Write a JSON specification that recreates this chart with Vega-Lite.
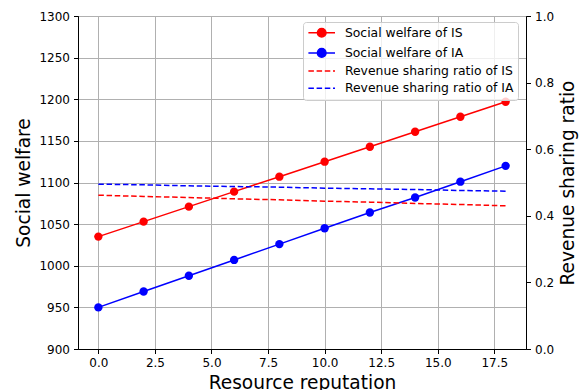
{
  "$schema": "https://vega.github.io/schema/vega-lite/v6.json",
  "width": 448,
  "height": 333,
  "autosize": {"type": "none"},
  "padding": {"left": 78, "top": 16, "right": 53, "bottom": 41},
  "background": "white",
  "config": {
    "font": "DejaVu Sans",
    "view": {"stroke": "black", "strokeWidth": 1},
    "axis": {
      "labelFont": "DejaVu Sans",
      "labelFontSize": 12,
      "labelColor": "black",
      "titleFont": "DejaVu Sans",
      "titleFontSize": 18.6,
      "titleFontWeight": "normal",
      "titleColor": "black",
      "domainColor": "black",
      "tickColor": "black",
      "tickSize": 4.5,
      "labelPadding": 4,
      "gridColor": "#b0b0b0",
      "gridWidth": 1
    }
  },
  "datasets": {
    "welfare": [
      {"r": 0, "series": "Social welfare of IS", "welfare": 1035},
      {"r": 2, "series": "Social welfare of IS", "welfare": 1053},
      {"r": 4, "series": "Social welfare of IS", "welfare": 1071},
      {"r": 6, "series": "Social welfare of IS", "welfare": 1089},
      {"r": 8, "series": "Social welfare of IS", "welfare": 1107},
      {"r": 10, "series": "Social welfare of IS", "welfare": 1125},
      {"r": 12, "series": "Social welfare of IS", "welfare": 1143},
      {"r": 14, "series": "Social welfare of IS", "welfare": 1161},
      {"r": 16, "series": "Social welfare of IS", "welfare": 1179},
      {"r": 18, "series": "Social welfare of IS", "welfare": 1197},
      {"r": 0, "series": "Social welfare of IA", "welfare": 950},
      {"r": 2, "series": "Social welfare of IA", "welfare": 969},
      {"r": 4, "series": "Social welfare of IA", "welfare": 988},
      {"r": 6, "series": "Social welfare of IA", "welfare": 1007},
      {"r": 8, "series": "Social welfare of IA", "welfare": 1026},
      {"r": 10, "series": "Social welfare of IA", "welfare": 1045},
      {"r": 12, "series": "Social welfare of IA", "welfare": 1064},
      {"r": 14, "series": "Social welfare of IA", "welfare": 1082},
      {"r": 16, "series": "Social welfare of IA", "welfare": 1101},
      {"r": 18, "series": "Social welfare of IA", "welfare": 1120}
    ],
    "ratio": [
      {"r": 0, "series": "Revenue sharing ratio of IS", "ratio": 0.462},
      {"r": 2, "series": "Revenue sharing ratio of IS", "ratio": 0.458},
      {"r": 4, "series": "Revenue sharing ratio of IS", "ratio": 0.455},
      {"r": 6, "series": "Revenue sharing ratio of IS", "ratio": 0.451},
      {"r": 8, "series": "Revenue sharing ratio of IS", "ratio": 0.448},
      {"r": 10, "series": "Revenue sharing ratio of IS", "ratio": 0.444},
      {"r": 12, "series": "Revenue sharing ratio of IS", "ratio": 0.441},
      {"r": 14, "series": "Revenue sharing ratio of IS", "ratio": 0.437},
      {"r": 16, "series": "Revenue sharing ratio of IS", "ratio": 0.434},
      {"r": 18, "series": "Revenue sharing ratio of IS", "ratio": 0.430},
      {"r": 0, "series": "Revenue sharing ratio of IA", "ratio": 0.495},
      {"r": 2, "series": "Revenue sharing ratio of IA", "ratio": 0.493},
      {"r": 4, "series": "Revenue sharing ratio of IA", "ratio": 0.490},
      {"r": 6, "series": "Revenue sharing ratio of IA", "ratio": 0.488},
      {"r": 8, "series": "Revenue sharing ratio of IA", "ratio": 0.486},
      {"r": 10, "series": "Revenue sharing ratio of IA", "ratio": 0.483},
      {"r": 12, "series": "Revenue sharing ratio of IA", "ratio": 0.481},
      {"r": 14, "series": "Revenue sharing ratio of IA", "ratio": 0.479},
      {"r": 16, "series": "Revenue sharing ratio of IA", "ratio": 0.476},
      {"r": 18, "series": "Revenue sharing ratio of IA", "ratio": 0.474}
    ]
  },
  "layer": [
    {
      "data": {"name": "welfare"},
      "encoding": {
        "x": {
          "field": "r",
          "type": "quantitative",
          "scale": {"domain": [-0.9, 18.9], "nice": false, "zero": false},
          "axis": {
            "values": [0, 2.5, 5, 7.5, 10, 12.5, 15, 17.5],
            "format": ".1f",
            "title": "Resource reputation",
            "grid": true,
            "titlePadding": 5
          }
        },
        "y": {
          "field": "welfare",
          "type": "quantitative",
          "scale": {"domain": [900, 1300], "nice": false, "zero": false},
          "axis": {
            "orient": "left",
            "values": [900, 950, 1000, 1050, 1100, 1150, 1200, 1250, 1300],
            "format": "d",
            "title": "Social welfare",
            "grid": true,
            "titlePadding": 5
          }
        },
        "color": {
          "field": "series",
          "type": "nominal",
          "scale": {
            "domain": ["Social welfare of IS", "Social welfare of IA", "Revenue sharing ratio of IS", "Revenue sharing ratio of IA"],
            "range": ["#ff0000", "#0000ff", "#ff0000", "#0000ff"]
          },
          "legend": {
            "title": null,
            "orient": "none",
            "legendX": 225,
            "legendY": 6,
            "padding": 4.5,
            "fillColor": "rgba(255,255,255,0.8)",
            "strokeColor": "#cccccc",
            "cornerRadius": 3,
            "labelFont": "DejaVu Sans",
            "labelFontSize": 12.4,
            "labelColor": "black",
            "labelLimit": 400,
            "symbolSize": 100,
            "symbolOffset": 8,
            "labelOffset": 17,
            "rowPadding": 4.2,
            "symbolStrokeWidth": 1.5,
            "encode": {
              "symbols": {
                "update": {
                  "size": {"value": 100},
                  "opacity": {"value": 1},
                  "shape": {"signal": "indexof(datum.value, 'Social') === 0 ? 'M-2.66,0H2.66M0.86,0A0.86,0.86,0,1,1,-0.86,0A0.86,0.86,0,1,1,0.86,0Z' : 'M-2.66,0H2.66'"},
                  "strokeDash": {"signal": "indexof(datum.value, 'Revenue') === 0 ? [5.5, 2.7] : []"},
                  "fill": {"signal": "slice(datum.value, -2) === 'IS' ? '#ff0000' : '#0000ff'"},
                  "stroke": {"signal": "slice(datum.value, -2) === 'IS' ? '#ff0000' : '#0000ff'"},
                  "strokeWidth": {"value": 1.5}
                }
              }
            }
          }
        }
      },
      "layer": [
        {"mark": {"type": "line", "strokeWidth": 1.5}},
        {"mark": {"type": "point", "filled": true, "size": 70, "opacity": 1}}
      ]
    },
    {
      "data": {"name": "ratio"},
      "mark": {"type": "line", "strokeWidth": 1.5, "strokeDash": [5.5, 2.7]},
      "encoding": {
        "x": {"field": "r", "type": "quantitative"},
        "y": {
          "field": "ratio",
          "type": "quantitative",
          "scale": {"domain": [0, 1], "nice": false},
          "axis": {
            "orient": "right",
            "values": [0, 0.2, 0.4, 0.6, 0.8, 1.0],
            "format": ".1f",
            "title": "Revenue sharing ratio",
            "titleAngle": 270,
            "titleBaseline": "top",
            "grid": false,
            "titlePadding": 5
          }
        },
        "color": {"field": "series", "type": "nominal"}
      }
    }
  ],
  "resolve": {"scale": {"y": "independent"}}
}
